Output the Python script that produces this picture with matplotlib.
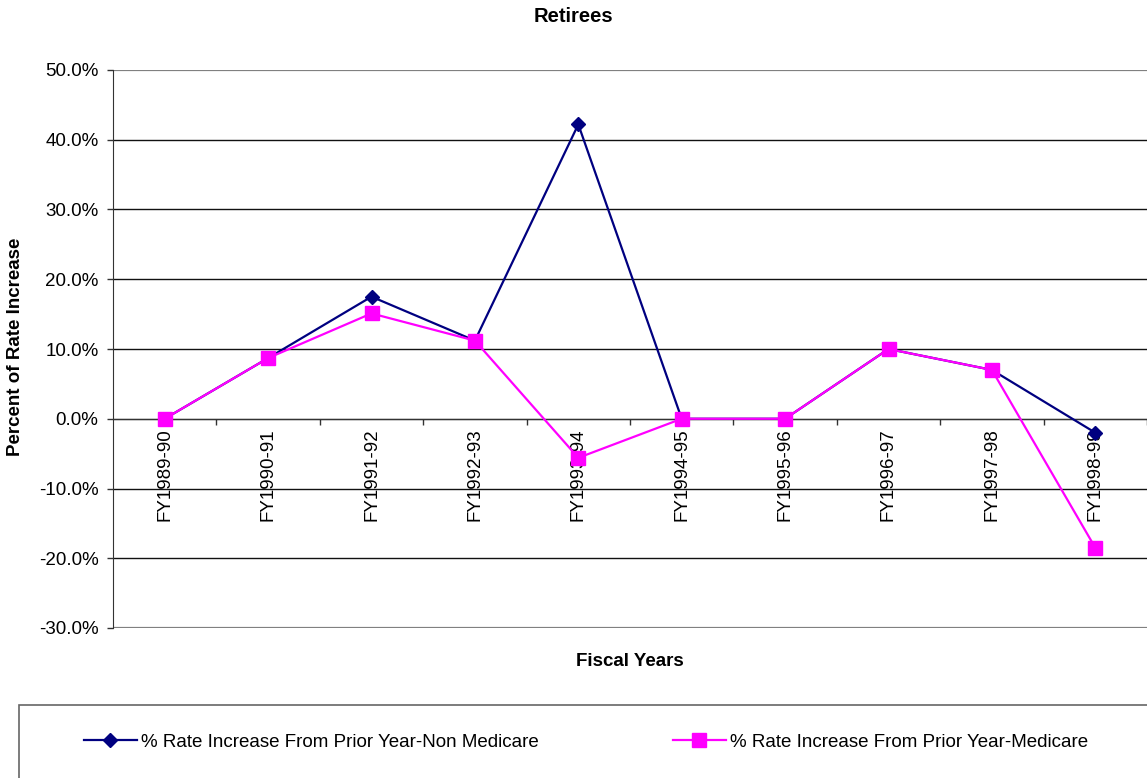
import matplotlib
matplotlib.use("Agg")
import matplotlib.pyplot as plt
from matplotlib.patches import Rectangle
from matplotlib.ticker import FuncFormatter, FixedLocator
import numpy as np

plt.rcParams['font.family'] = ['Liberation Sans', 'DejaVu Sans']

# fiscal years and yearly premium rate changes (percent)
years = ['FY1989-90', 'FY1990-91', 'FY1991-92', 'FY1992-93', 'FY1993-94',
         'FY1994-95', 'FY1995-96', 'FY1996-97', 'FY1997-98', 'FY1998-99']
non_medicare = [0.0, 8.7, 17.5, 11.2, 42.2, 0.0, 0.0, 10.0, 7.0, -2.0]
medicare = [0.0, 8.7, 15.1, 11.2, -5.6, 0.0, 0.0, 10.0, 7.0, -18.5]
label_non = '% Rate Increase From Prior Year-Non Medicare'
label_med = '% Rate Increase From Prior Year-Medicare'

W, H = 1147, 778
fig = plt.figure(figsize=(W / 100, H / 100), dpi=100)
ax = fig.add_axes([113 / W, 1 - 628 / H, (W - 113) / W, (628 - 70) / H])

x = np.arange(len(years))
l1, = ax.plot(x, non_medicare, color='#000080', lw=1.6, marker='D', ms=7,
              label=label_non, zorder=3)
l2, = ax.plot(x, medicare, color='#FF00FF', lw=1.6, marker='s', ms=9.5,
              label=label_med, zorder=4)

ax.set_xlim(-0.5, len(years) - 0.5)
ax.set_ylim(-30, 50)
ax.set_yticks(np.arange(-30, 51, 10))
ax.yaxis.set_major_formatter(FuncFormatter(lambda v, p: f'{v:.1f}%'))
ax.tick_params(axis='y', labelsize=13.5, length=4, width=1, pad=6.5, color='#333333')

# category labels at centers, tick marks at the boundaries
ax.set_xticks(x)
ax.set_xticklabels(years)
ax.xaxis.set_minor_locator(FixedLocator(np.arange(0.5, len(years), 1)))
ax.tick_params(axis='x', which='major', length=0, labelsize=13.5, pad=7,
               labelrotation=90)
ax.tick_params(axis='x', which='minor', length=4, width=1, color='#333333')
for lbl in ax.get_xticklabels():
    lbl.set_va('top')
    lbl.set_ha('center')

ax.grid(axis='y', color='#111111', lw=1)
ax.set_axisbelow(True)
glines = ax.yaxis.get_gridlines()
for g in (glines[0], glines[-1]):
    g.set_color('#808080')
    g.set_linewidth(1.6)

ax.spines['bottom'].set_position(('data', 0))
ax.spines['bottom'].set_color('#333333')
ax.spines['left'].set_color('#333333')
ax.spines['top'].set_visible(False)
ax.spines['right'].set_visible(False)

fig.text(573 / W, 1 - 17 / H, 'Retirees', ha='center', va='center',
         fontsize=14.5, fontweight='bold')
fig.text(630 / W, 1 - 661 / H, 'Fiscal Years', ha='center', va='center',
         fontsize=13.5, fontweight='bold')
fig.text(16 / W, 1 - 347 / H, 'Percent of Rate Increase', ha='center', va='center',
         rotation=90, fontsize=13.5, fontweight='bold')

# legend frame running off the bottom-right edge
fig.patches.append(Rectangle((19 / W, -0.05), 1.1, (1 - 705 / H) + 0.05,
                             transform=fig.transFigure, fill=False,
                             edgecolor='#666666', lw=1.2))
for handle, lx in [(l1, 84), (l2, 673)]:
    fig.legend(handles=[handle], loc='center left',
               bbox_to_anchor=(lx / W, 1 - 742 / H), frameon=False,
               borderpad=0, borderaxespad=0, handlelength=2.8,
               handletextpad=0.25, fontsize=13.5)

fig.savefig('out.png', dpi=100)
